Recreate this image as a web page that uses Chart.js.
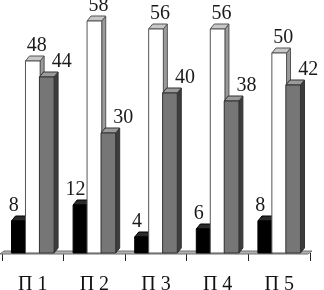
<!DOCTYPE html>
<html>
<head>
<meta charset="utf-8">
<script src="https://cdn.jsdelivr.net/npm/chart.js@4/dist/chart.umd.min.js"></script>
<style>
html,body{margin:0;padding:0;background:#fff;}
canvas{display:block;}
</style>
</head>
<body>
<canvas id="c" width="324" height="290"></canvas>
<script>
const categories = ['П 1', 'П 2', 'П 3', 'П 4', 'П 5'];
const seriesBlack = [8, 12, 4, 6, 8];
const seriesWhite = [48, 58, 56, 56, 50];
const seriesGray = [44, 30, 40, 38, 42];

const styles = [
  {front: '#000000', top: '#2a2a2a', side: '#111111', edge: '#000000', labelDx: -5},
  {front: '#ffffff', top: '#c8c8c8', side: '#9a9a9a', edge: '#555555', labelDx: 4},
  {front: '#767676', top: '#9a9a9a', side: '#3c3c3c', edge: '#333333', labelDx: 15}
];
const DX = 4, DY = 5;

const bars3d = {
  id: 'bars3d',
  beforeDatasetsDraw(chart) {
    const ctx = chart.ctx, a = chart.chartArea;
    ctx.save();
    ctx.beginPath();
    ctx.moveTo(a.left - 2, a.bottom + 1);
    ctx.lineTo(a.right - 2, a.bottom + 1);
    ctx.lineTo(a.right + 2, a.bottom - 2);
    ctx.lineTo(a.left + 2, a.bottom - 2);
    ctx.closePath();
    ctx.fillStyle = '#b0b0b0';
    ctx.fill();
    ctx.strokeStyle = '#707070';
    ctx.lineWidth = 1;
    ctx.stroke();
    ctx.restore();
  },
  afterDatasetsDraw(chart) {
    const ctx = chart.ctx;
    ctx.save();
    for (let d = 0; d < chart.data.datasets.length; d++) {
      const st = styles[d];
      const meta = chart.getDatasetMeta(d);
      meta.data.forEach(el => {
        const x0 = el.x - el.width / 2, x1 = el.x + el.width / 2;
        const yt = el.y, yb = el.base;
        ctx.lineWidth = 1;
        ctx.strokeStyle = st.edge;
        ctx.beginPath();
        ctx.moveTo(x1, yt); ctx.lineTo(x1 + DX, yt - DY); ctx.lineTo(x1 + DX, yb - DY); ctx.lineTo(x1, yb);
        ctx.closePath();
        ctx.fillStyle = st.side; ctx.fill(); ctx.stroke();
        ctx.beginPath();
        ctx.moveTo(x0, yt); ctx.lineTo(x1, yt); ctx.lineTo(x1 + DX, yt - DY); ctx.lineTo(x0 + DX, yt - DY);
        ctx.closePath();
        ctx.fillStyle = st.top; ctx.fill(); ctx.stroke();
        ctx.beginPath();
        ctx.rect(x0, yt, x1 - x0, yb - yt);
        ctx.fillStyle = st.front; ctx.fill(); ctx.stroke();
      });
    }
    ctx.font = '20px "Liberation Serif", "Times New Roman", serif';
    ctx.fillStyle = '#1a1a1a';
    ctx.textAlign = 'center';
    ctx.textBaseline = 'middle';
    for (let d = 0; d < chart.data.datasets.length; d++) {
      const meta = chart.getDatasetMeta(d);
      const vals = chart.data.datasets[d].data;
      meta.data.forEach((el, i) => {
        ctx.fillText(String(vals[i]), el.x + styles[d].labelDx, el.y - 15);
      });
    }
    ctx.restore();
  }
};

new Chart(document.getElementById('c'), {
  type: 'bar',
  data: {
    labels: categories,
    datasets: [
      {data: seriesBlack, backgroundColor: 'rgba(0,0,0,0)'},
      {data: seriesWhite, backgroundColor: 'rgba(0,0,0,0)'},
      {data: seriesGray, backgroundColor: 'rgba(0,0,0,0)'}
    ]
  },
  options: {
    responsive: false,
    animation: false,
    events: [],
    categoryPercentage: 0.68,
    barPercentage: 1.05,
    layout: {padding: {left: 2, right: 14, top: 13, bottom: 0}},
    plugins: {legend: {display: false}, tooltip: {enabled: false}},
    scales: {
      y: {display: false, min: 0, max: 60},
      x: {
        border: {display: false},
        grid: {offset: true, drawOnChartArea: false, drawTicks: true, tickLength: 8, color: '#222', lineWidth: 1},
        ticks: {
          padding: 12,
          maxRotation: 0,
          color: '#111',
          font: {family: '"Liberation Serif", "Times New Roman", serif', size: 20}
        },
        afterFit(s) { s.height = 37; }
      }
    }
  },
  plugins: [bars3d]
});
</script>
</body>
</html>
